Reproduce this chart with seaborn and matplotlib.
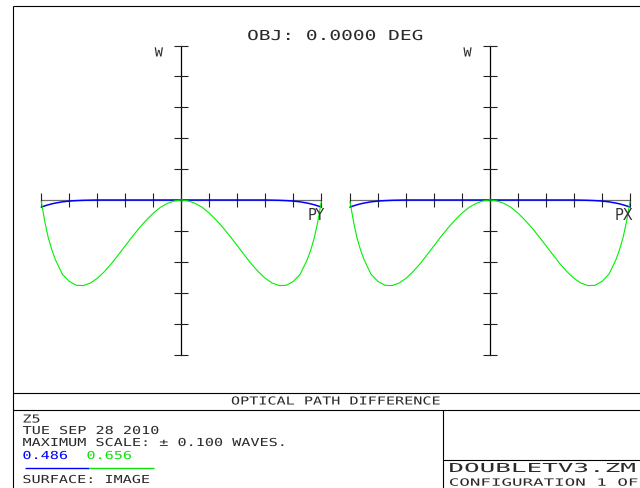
import numpy as np
import pandas as pd
import matplotlib
matplotlib.use("Agg")
import matplotlib.pyplot as plt
import seaborn as sns
from matplotlib.patheffects import AbstractPathEffect
from matplotlib.transforms import Affine2D
from matplotlib.lines import Line2D

# ---------------- data ----------------
pupil = [-1.000, -0.975, -0.95, -0.925, -0.90, -0.85, -0.80, -0.75, -0.70, -0.65, -0.60, -0.55,
         -0.50, -0.45, -0.40, -0.35, -0.30, -0.25, -0.20, -0.15, -0.10, -0.05,
         0.00, 0.05, 0.10, 0.15, 0.20, 0.25, 0.30, 0.35, 0.40, 0.45,
         0.50, 0.55, 0.60, 0.65, 0.70, 0.75, 0.80, 0.85, 0.90, 0.925, 0.95, 0.975, 1.000]

# 0.656 um (green), tangential fan (PY)
green_py = [-0.0010, -0.0140, -0.0245, -0.0322, -0.0385, -0.0480, -0.0527, -0.0552, -0.0554, -0.0538, -0.0507, -0.0464,
            -0.0413, -0.0355, -0.0296, -0.0237, -0.0181, -0.0130, -0.0085, -0.0048, -0.0022, -0.0006,
            0.0000, -0.0006, -0.0022, -0.0048, -0.0085, -0.0130, -0.0181, -0.0237, -0.0296, -0.0355,
            -0.0413, -0.0464, -0.0507, -0.0538, -0.0554, -0.0552, -0.0527, -0.0480, -0.0385, -0.0322, -0.0245, -0.0140, -0.0010]
# 0.486 um (blue), tangential fan (PY)
blue_py = [-0.0046, -0.0038, -0.0031, -0.0025, -0.0020, -0.0012, -0.0007, -0.0004, -0.0002, -0.0001, 0.0, 0.0,
           0.0, 0.0, 0.0, 0.0, 0.0, 0.0, 0.0, 0.0, 0.0, 0.0,
           0.0, 0.0, 0.0, 0.0, 0.0, 0.0, 0.0, 0.0, 0.0, 0.0,
           0.0, 0.0, 0.0, -0.0001, -0.0002, -0.0004, -0.0007, -0.0012, -0.0020, -0.0025, -0.0031, -0.0038, -0.0046]
# sagittal fan (PX) — on axis it is identical to the tangential one
green_px = [-0.0010, -0.0140, -0.0245, -0.0322, -0.0385, -0.0480, -0.0527, -0.0552, -0.0554, -0.0538, -0.0507, -0.0464,
            -0.0413, -0.0355, -0.0296, -0.0237, -0.0181, -0.0130, -0.0085, -0.0048, -0.0022, -0.0006,
            0.0000, -0.0006, -0.0022, -0.0048, -0.0085, -0.0130, -0.0181, -0.0237, -0.0296, -0.0355,
            -0.0413, -0.0464, -0.0507, -0.0538, -0.0554, -0.0552, -0.0527, -0.0480, -0.0385, -0.0322, -0.0245, -0.0140, -0.0010]
blue_px = [-0.0046, -0.0038, -0.0031, -0.0025, -0.0020, -0.0012, -0.0007, -0.0004, -0.0002, -0.0001, 0.0, 0.0,
           0.0, 0.0, 0.0, 0.0, 0.0, 0.0, 0.0, 0.0, 0.0, 0.0,
           0.0, 0.0, 0.0, 0.0, 0.0, 0.0, 0.0, 0.0, 0.0, 0.0,
           0.0, 0.0, 0.0, -0.0001, -0.0002, -0.0004, -0.0007, -0.0012, -0.0020, -0.0025, -0.0031, -0.0038, -0.0046]

max_scale = 0.100
x_ticks = [-1.0, -0.8, -0.6, -0.4, -0.2, 0.0, 0.2, 0.4, 0.6, 0.8, 1.0]
y_ticks = [-0.10, -0.08, -0.06, -0.04, -0.02, 0.0, 0.02, 0.04, 0.06, 0.08, 0.10]
wavelengths = ["0.486", "0.656"]
colors = ["#0000ff", "#00f000"]

title = "OBJ: 0.0000 DEG"
plot_name = "OPTICAL PATH DIFFERENCE"
info_lines = ["Z5", "TUE SEP 28 2010", "MAXIMUM SCALE: \u00b1 0.100 WAVES."]
surface_text = "SURFACE: IMAGE"
file_text = "DOUBLETV3.ZM"
config_text = "CONFIGURATION 1 OF"

# ---------------- style ----------------
sns.set_theme(style="white")
plt.rcParams["font.family"] = ["DejaVu Sans Mono", "DejaVu Sans"]

W_PX, H_PX = 640, 489
TXT = "#2a2a2a"


class Stretch(AbstractPathEffect):
    """Horizontally widen text glyphs (text stays a real Text artist)."""

    def __init__(self, sx, anchor="center"):
        super().__init__()
        self.sx = sx
        self.anchor = anchor

    def draw_path(self, renderer, gc, tpath, affine, rgbFace=None):
        bb = tpath.get_extents(affine)
        if self.anchor == "left":
            a = bb.x0
        elif self.anchor == "right":
            a = bb.x1
        else:
            a = 0.5 * (bb.x0 + bb.x1)
        t = affine + Affine2D().translate(-a, 0).scale(self.sx, 1.0).translate(a, 0)
        renderer.draw_path(gc, tpath, t, rgbFace)


def fx(x):
    return x / W_PX


def fy(y):
    return 1 - y / H_PX


fig = plt.figure(figsize=(6.4, 4.89), dpi=100)
fig.patch.set_facecolor("white")


def ftext(x, y, s, size, sx, ha="left", color=TXT, family=None):
    kw = {}
    if family is not None:
        kw["family"] = family
    fig.text(fx(x), fy(y), s, ha=ha, va="center", fontsize=size, color=color,
             path_effects=[Stretch(sx, anchor=ha)], **kw)


def fline(x0, y0, x1, y1, color="black", lw=0.8):
    fig.add_artist(Line2D([fx(x0), fx(x1)], [fy(y0), fy(y1)],
                          transform=fig.transFigure, color=color, lw=lw,
                          solid_capstyle="butt"))


# ---------------- the two fans ----------------
panels = [
    (41.3, pd.DataFrame({"p": pupil, "blue": blue_py, "green": green_py}), "PY", 316),
    (350.0, pd.DataFrame({"p": pupil, "blue": blue_px, "green": green_px}), "PX", 624),
]
top_px, bot_px = 46.5, 355.5
for left_px, df, lab, lab_x in panels:
    ax = fig.add_axes([fx(left_px), fy(bot_px), 280 / W_PX, (bot_px - top_px) / H_PX])
    ax.set_facecolor("none")
    sns.lineplot(data=df, x="p", y="blue", ax=ax, color=colors[0], lw=1.1,
                 sort=False, estimator=None)
    sns.lineplot(data=df, x="p", y="green", ax=ax, color=colors[1], lw=0.8,
                 sort=False, estimator=None)
    for ln in ax.get_lines():
        ln.set_clip_on(False)
    ax.set_xlim(-1, 1)
    ax.set_ylim(-max_scale, max_scale)
    ax.set_xlabel("")
    ax.set_ylabel("")
    ax.spines["top"].set_visible(False)
    ax.spines["right"].set_visible(False)
    ax.spines["left"].set_position(("data", 0))
    ax.spines["bottom"].set_position(("data", 0))
    ax.spines["left"].set_color("black")
    ax.spines["left"].set_linewidth(0.9)
    ax.spines["bottom"].set_color("#707070")
    ax.spines["bottom"].set_linewidth(0.9)
    ax.spines["left"].set_zorder(0.5)
    ax.spines["bottom"].set_zorder(0.5)
    ax.set_xticks(x_ticks)
    ax.set_yticks(y_ticks)
    ax.tick_params(axis="both", which="both", direction="inout", length=10,
                   width=0.8, colors="#222222", bottom=True, left=True,
                   labelbottom=False, labelleft=False)
    ax.grid(False)
    # axis labels
    w_x = left_px + 140 - 22.5
    ftext(w_x, 54, "W", 9.0, 1.1, ha="center")
    fig.text(fx(lab_x), fy(216), lab, ha="center", va="center", fontsize=10.5,
             color="#333333", family="DejaVu Sans")

# ---------------- titles and info box ----------------
ftext(335, 37, title, 9.9, 1.42, ha="center")

# frame lines
fline(13, 7, 640, 7)
fline(13, 7, 13, 489)
fline(13, 394, 640, 394)
fline(13, 411, 640, 411)
fline(442.7, 411, 442.7, 489)
fline(442.7, 461, 640, 461)

ftext(336, 402.5, plot_name, 7.9, 1.38, ha="center")

for s, y in zip(info_lines, [420.5, 432, 444]):
    ftext(22.7, y, s, 7.9, 1.38)
ftext(22.7, 457, wavelengths[0], 7.9, 1.38, color=colors[0])
ftext(86.7, 457, wavelengths[1], 7.9, 1.38, color="#10e010")
fline(25, 468.5, 89.3, 468.5, color=colors[0], lw=1.0)
fline(89.3, 468.5, 154, 468.5, color="#10e010", lw=1.0)
ftext(22.7, 481, surface_text, 7.9, 1.38)

ftext(449.3, 469.5, file_text, 8.9, 2.1)
ftext(449.3, 483.7, config_text, 7.2, 1.75)

fig.savefig("out.png", dpi=100, facecolor="white")
